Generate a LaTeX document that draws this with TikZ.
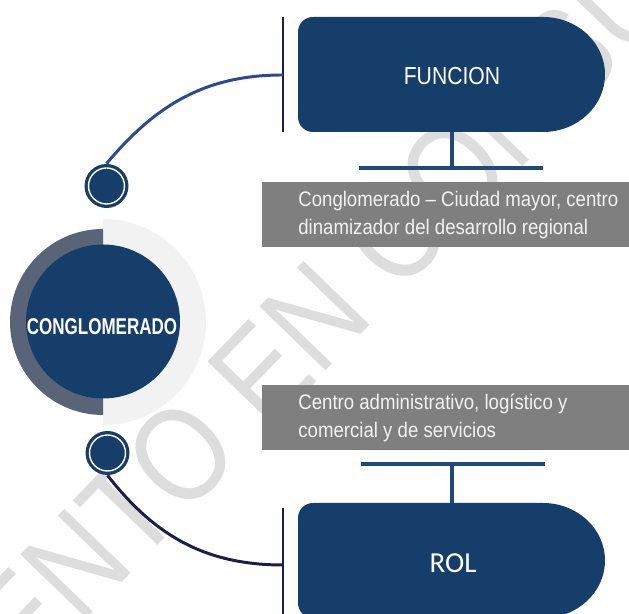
\documentclass[tikz,border=0pt]{standalone}
\usepackage{fontspec}
\setmainfont{Liberation Sans}
\newfontfamily\rolfont{Carlito}
\usepackage{graphicx}

\definecolor{navyfill}{RGB}{22,62,106}
\definecolor{ringdark}{RGB}{90,100,120}
\definecolor{ringlight}{RGB}{242,242,242}
\definecolor{boxgray}{RGB}{127,127,127}
\definecolor{barnavy}{RGB}{28,31,69}
\definecolor{curveblue}{RGB}{47,74,140}
\definecolor{stemblue}{RGB}{31,73,125}
\definecolor{wmgray}{RGB}{221,221,221}

\begin{document}
\begin{tikzpicture}[
  dot/.style={circle, fill=navyfill, minimum size=0.88cm, inner sep=0pt},
  bar/.style={barnavy, line width=1.7pt},
  stem/.style={stemblue, line width=2.2pt},
  notebox/.style={fill=boxgray, minimum width=7.34cm, minimum height=1.3cm, inner sep=0pt},
  notetext/.style={text=ringlight, anchor=west, align=left, inner sep=0pt,
    font=\fontsize{12}{15.9}\selectfont}
]
  \clip (0,0) rectangle (12.58,12.28);

  % Watermark
  \node[wmgray, rotate=46, inner sep=0pt, font=\fontsize{76}{76}\selectfont] (mark) at (4.80,4.40)
    {\scalebox{0.85}[1]{DOCUMENTO EN CONSULTA}};

  % Central circle
  \fill[ringlight] (2.06,7.90) arc[start angle=90, end angle=-90, radius=2.06cm] -- cycle;
  \fill[ringdark] (2.06,7.70) arc[start angle=90, end angle=270, radius=1.86cm] -- cycle;
  \node[circle, fill=navyfill, minimum size=3.08cm, inner sep=0pt] (conglo) at (2.06,5.85) {};
  \node[text=white, anchor=base, font=\bfseries\fontsize{13}{13}\selectfont] (conglotext) at (2.04,5.58)
    {\scalebox{0.745}[1]{CONGLOMERADO}};

  % Small dots
  \node[dot] (topdot) at (2.13,8.56) {};
  \draw[white, line width=0.8pt] (topdot) circle (0.36cm);
  \node[dot] (botdot) at (2.15,3.22) {};
  \draw[white, line width=0.8pt] (botdot) circle (0.36cm);

  % FUNCION box
  \fill[navyfill] (6.26,11.94) -- (10.86,11.94)
    arc[start angle=90, end angle=-90, x radius=1.24cm, y radius=1.15cm]
    -- (6.26,9.64) arc[start angle=270, end angle=180, radius=0.3cm]
    -- (5.96,11.64) arc[start angle=180, end angle=90, radius=0.3cm] -- cycle;
  \node[text=white, anchor=base, font=\fontsize{14}{14}\selectfont] (funcion) at (9.04,10.58)
    {\scalebox{0.86}[1]{FUNCION}};
  \coordinate (funcbartop) at (5.66,11.94);
  \coordinate (funcbarbot) at (5.66,9.64);
  \coordinate (funcjoin) at (5.66,10.78);
  \draw[bar] (funcbartop) -- (funcbarbot);
  \draw[curveblue, line width=1.7pt] (topdot.north) to[out=50, in=180] (funcjoin);

  % ROL box
  \fill[navyfill] (6.26,2.22) -- (10.86,2.22)
    arc[start angle=90, end angle=-90, x radius=1.24cm, y radius=1.15cm]
    -- (6.26,-0.08) arc[start angle=270, end angle=180, radius=0.3cm]
    -- (5.96,1.92) arc[start angle=180, end angle=90, radius=0.3cm] -- cycle;
  \node[text=white, anchor=base, font=\rolfont\fontsize{16.5}{16.5}\selectfont] (rol) at (9.06,0.82) {ROL};
  \coordinate (rolbartop) at (5.66,2.12);
  \coordinate (rolbarbot) at (5.66,-0.2);
  \coordinate (roljoin) at (5.66,0.98);
  \draw[bar] (rolbartop) -- (rolbarbot);
  \draw[barnavy, line width=1.7pt] (botdot.south) to[out=-52, in=180] (roljoin);

  % Notes
  \node[notebox, anchor=north west] (funcnote) at (5.24,8.64) {};
  \node[notetext] (funcnotetext) at ([xshift=0.72cm]funcnote.west)
    {\scalebox{0.883}[1]{Conglomerado -- Ciudad mayor, centro}\\
     \scalebox{0.883}[1]{dinamizador del desarrollo regional}};
  \node[notebox, anchor=north west] (rolnote) at (5.24,4.58) {};
  \node[notetext] (rolnotetext) at ([xshift=0.72cm]rolnote.west)
    {\scalebox{0.883}[1]{Centro administrativo, logístico y}\\
     \scalebox{0.883}[1]{comercial y de servicios}};

  % Stems
  \coordinate (funcstemtop) at (9.04,9.64);
  \coordinate (funcstembot) at (9.04,8.92);
  \draw[stem] (funcstemtop) -- (funcstembot);
  \draw[stem] (7.18,8.92) -- (10.86,8.92);
  \coordinate (rolstemtop) at (9.04,3.00);
  \coordinate (rolstembot) at (9.04,2.22);
  \draw[stem] (rolstemtop) -- (rolstembot);
  \draw[stem] (7.22,3.00) -- (10.90,3.00);
\end{tikzpicture}
\end{document}
